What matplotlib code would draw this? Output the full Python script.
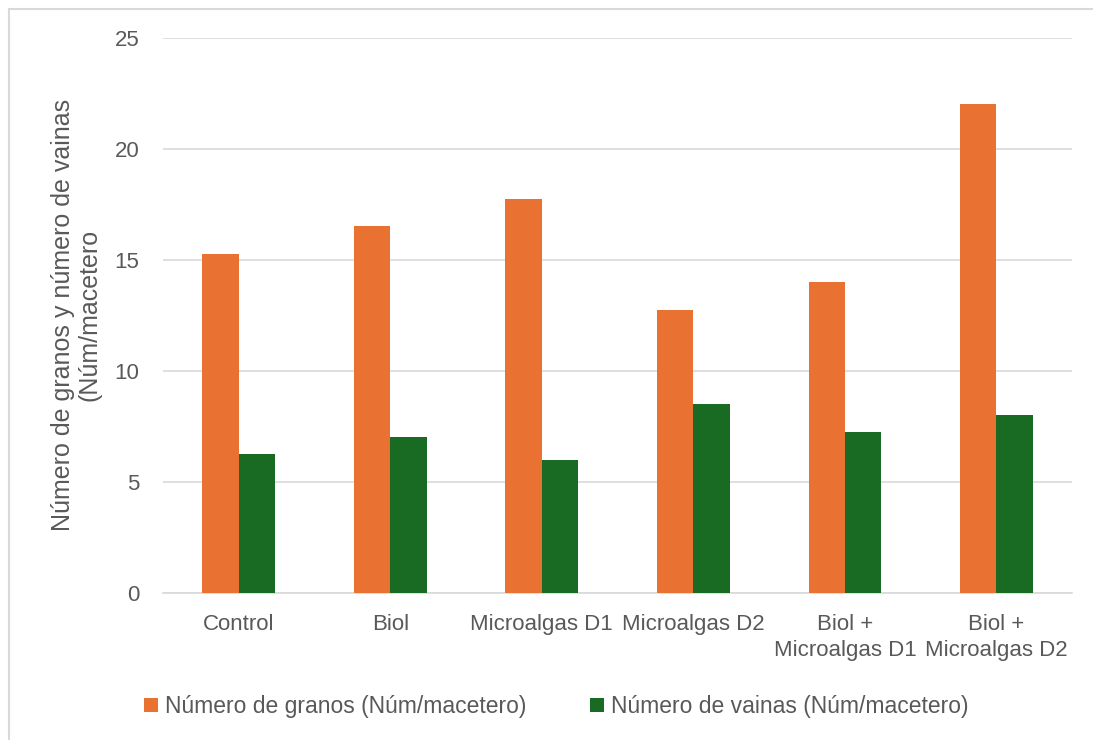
import numpy as np
import matplotlib
matplotlib.use("Agg")
import matplotlib.pyplot as plt

categories = ["Control", "Biol", "Microalgas D1", "Microalgas D2",
              "Biol +\nMicroalgas D1", "Biol +\nMicroalgas D2"]
granos = [15.25, 16.5, 17.75, 12.75, 14.0, 22.0]
vainas = [6.25, 7.0, 6.0, 8.5, 7.25, 8.0]
serie_names = ["Número de granos (Núm/macetero)", "Número de vainas (Núm/macetero)"]
yticks = [0, 5, 10, 15, 20, 25]

txt = "#595959"
plt.rcParams['font.family'] = ['Liberation Sans', 'DejaVu Sans']

fig = plt.figure(figsize=(10.93, 7.4), dpi=100)
ax = fig.add_axes([0.149, 0.199, 0.832, 0.750])

x = np.arange(len(categories))
w = 0.24
ax.bar(x - w/2, granos, w, color="#E97132", label=serie_names[0], zorder=3)
ax.bar(x + w/2, vainas, w, color="#196B24", label=serie_names[1], zorder=3)

ax.set_xlim(-0.5, len(categories) - 0.5)
ax.set_ylim(0, 25)
ax.set_yticks(yticks)
ax.yaxis.grid(True, color="#d9d9d9", linewidth=1.2, zorder=0)
for s in ["top", "right", "left"]:
    ax.spines[s].set_visible(False)
ax.spines["bottom"].set_color("#d9d9d9")
ax.spines["bottom"].set_linewidth(1.2)
ax.tick_params(axis="both", length=0, labelsize=16, colors=txt)
ax.tick_params(axis="y", pad=17)
ax.tick_params(axis="x", pad=15)
ax.set_xticks(x)
ax.set_xticklabels(categories, linespacing=1.35)
ax.set_ylabel("Número de granos y número de vainas\n(Núm/macetero",
              fontsize=18, color=txt, linespacing=1.1)
ax.yaxis.set_label_coords(-0.068, 0.5)

fig.legend(loc="center", bbox_to_anchor=(0.509, 0.045), ncol=2, frameon=False,
           fontsize=16.5, labelcolor=txt, handlelength=0.6, handleheight=0.6,
           handletextpad=0.3, columnspacing=2.8)

border = plt.Rectangle((0.008, -0.05), 1.2, 1.038, transform=fig.transFigure,
                       fill=False, edgecolor="#d9d9d9", linewidth=1.5)
fig.patches.append(border)

fig.savefig("out.png", dpi=100)
